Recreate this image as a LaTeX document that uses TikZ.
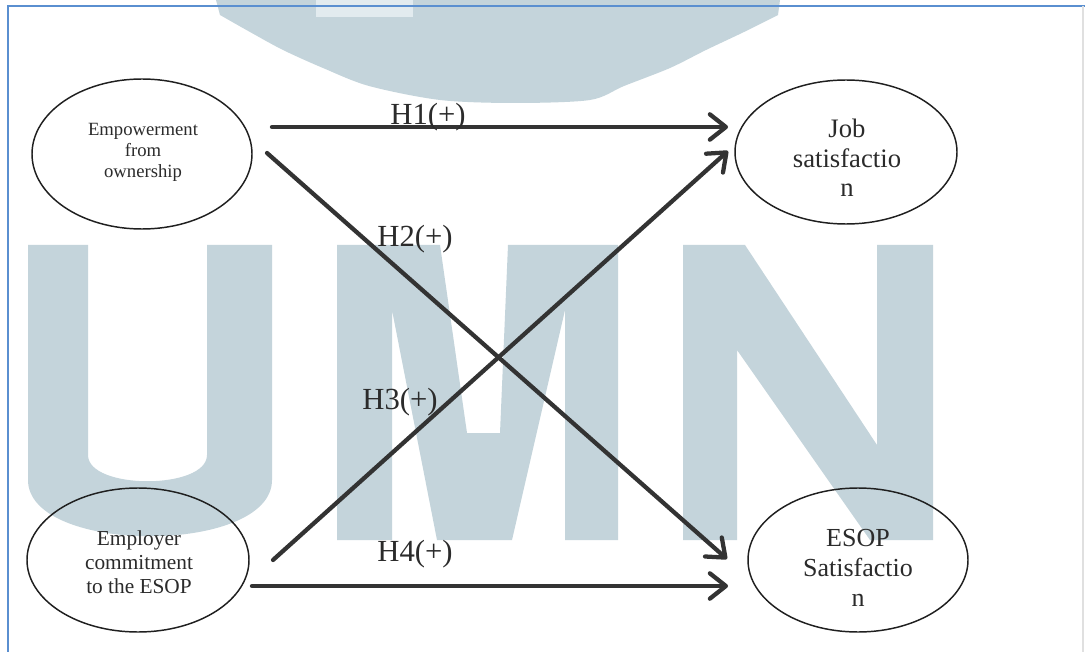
\documentclass[tikz,border=0pt]{standalone}
\usepackage{fontspec}
\setmainfont{Liberation Serif}
\usetikzlibrary{shapes.geometric,arrows.meta}
\definecolor{wm}{HTML}{C4D4DB}
\definecolor{wml}{HTML}{E2EBEF}
\definecolor{frameblue}{HTML}{5A8FD0}
\definecolor{ink}{HTML}{333333}
\definecolor{txt}{HTML}{2B2B2B}
\begin{document}
\begin{tikzpicture}[x=0.75pt,y=-0.75pt,
  ell/.style={draw=black!88,line width=1.1pt,ellipse,inner sep=0pt},
  lbl/.style={text=txt,align=center,inner sep=0pt},
  hyp/.style={text=txt,inner sep=0pt,anchor=base,font=\fontsize{23}{26}\selectfont},
  arr/.style={draw=ink,line width=3.2pt,line cap=round,
    -{Straight Barb[length=12pt,width=19pt,round]}}]
\useasboundingbox (0,0) rectangle (1085,652);
\fill[white] (0,0) rectangle (1085,652);
% watermark
\fill[wm] (216,0) -- (780,0) -- plot[smooth,tension=0.5] coordinates {(778,15) (744,32) (706,50) (670,68) (624,86) (590,100) (515,103) (440,100) (369,86) (323,68) (283,50) (250,32) (220,15)} -- cycle;
\fill[wml] (316,0) rectangle (413,17);
\fill[wm] (28,245) -- (88,245) -- (88,455) .. controls (88,490) and (207,490) .. (207,455) -- (207,245) -- (272,245) -- (272,480) .. controls (272,555) and (28,555) .. (28,480) -- cycle;
\fill[wm] (337,540) -- (337,245) -- (440,245) -- (467,433) -- (500,433) -- (508,245) -- (618,245) -- (618,540) -- (565,540) -- (565,310) -- (512,540) -- (437,540) -- (392,310) -- (392,540) -- cycle;
\fill[wm] (683,540) -- (683,245) -- (745,245) -- (877,445) -- (877,245) -- (933,245) -- (933,540) -- (870,540) -- (737,350) -- (737,540) -- cycle;
% frame
\draw[frameblue,line width=1.1pt] (8,652) -- (8,6) -- (1085,6);
\draw[black!12,line width=0.8pt] (1083,6) -- (1083,652);
% ellipses
\node[ell,minimum width=165pt,minimum height=112.5pt] (e1) at (142,154) {};
\node[ell,minimum width=166.5pt,minimum height=108pt] (e2) at (846,152) {};
\node[ell,minimum width=166.5pt,minimum height=108pt] (e3) at (138,560) {};
\node[ell,minimum width=165pt,minimum height=108pt] (e4) at (858,560) {};
% ellipse texts
\node[lbl,font=\fontsize{14}{15.75}\selectfont] (t1) at (143,152) {Empowerment\\from\\ownership};
\node[lbl,font=\fontsize{20}{22}\selectfont] (t2) at (847,158) {Job\\satisfactio\\n};
\node[lbl,font=\fontsize{16}{18}\selectfont] (t3) at (139,562) {Employer\\commitment\\to the ESOP};
\node[lbl,font=\fontsize{19.5}{22.5}\selectfont] (t4) at (858,568) {ESOP\\Satisfactio\\n};
% arrow end points
\coordinate (h1s) at (272,127); \coordinate (h1e) at (728,127);
\coordinate (h2s) at (267,153); \coordinate (h2e) at (727,559);
\coordinate (h3s) at (273,560); \coordinate (h3e) at (728,151);
\coordinate (h4s) at (252,586); \coordinate (h4e) at (728,586);
\draw[arr] (h1s) -- (h1e);
\draw[arr] (h2s) -- (h2e);
\draw[arr] (h3s) -- (h3e);
\draw[arr] (h4s) -- (h4e);
% hypothesis labels
\node[hyp] (l1) at (428,125) {H1(+)};
\node[hyp] (l2) at (415,247) {H2(+)};
\node[hyp] (l3) at (400,409) {H3(+)};
\node[hyp] (l4) at (415,561) {H4(+)};
\end{tikzpicture}
\end{document}
